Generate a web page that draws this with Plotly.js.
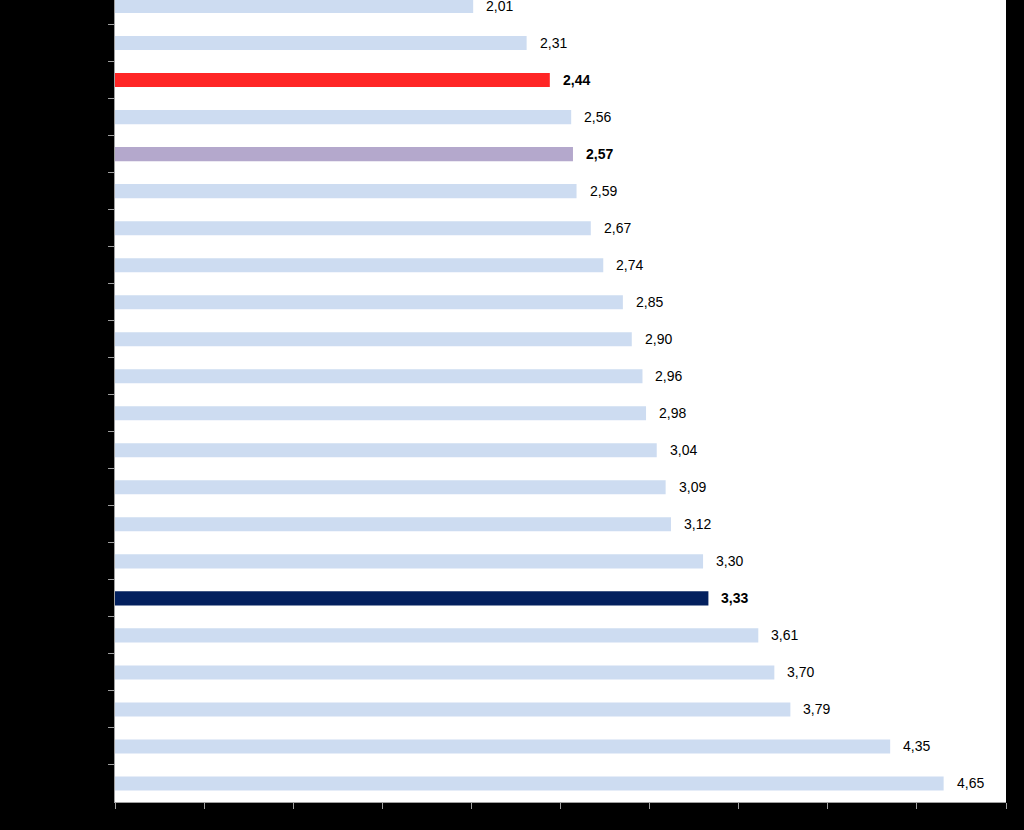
<!DOCTYPE html>
<html>
<head>
<meta charset="utf-8">
<script src="https://cdn.plot.ly/plotly-3.0.1.min.js"></script>
<style>html,body{margin:0;padding:0;background:#000;}#chart{width:1024px;height:830px;}</style>
</head>
<body>
<div id="chart"></div>
<script>
// Categories (labels are not readable in the reference; rank positions used), top to bottom
const categories = ["1","2","3","4","5","6","7","8","9","10","11","12","13","14","15","16","17","18","19","20","21","22"];
const values = [2.01, 2.31, 2.44, 2.56, 2.57, 2.59, 2.67, 2.74, 2.85, 2.90, 2.96, 2.98, 3.04, 3.09, 3.12, 3.30, 3.33, 3.61, 3.70, 3.79, 4.35, 4.65];
// highlight kind per category: "" normal, "red", "purple", "navy"
const highlight = ["", "", "red", "", "purple", "", "", "", "", "", "", "", "", "", "", "", "navy", "", "", "", "", ""];
const xTicks = [0, 0.5, 1, 1.5, 2, 2.5, 3, 3.5, 4, 4.5, 5];

const colorMap = {"": "#CDDCF1", "red": "#FF2626", "purple": "#B4A8CC", "navy": "#03205E"};
const barColors = highlight.map(h => colorMap[h]);

const trace = {
  type: "bar",
  orientation: "h",
  x: values,
  y: categories,
  marker: {color: barColors, line: {width: 0}},
  hoverinfo: "x"
};

// annotation y given as the category's position on the category axis
const annotations = values.map((v, i) => {
  const s = v.toFixed(2).replace(".", ",");
  return {
    x: v, y: categories.indexOf(categories[i]), xref: "x", yref: "y",
    text: highlight[i] ? "<b>" + s + "</b>" : s,
    showarrow: false, xanchor: "left", yanchor: "middle", xshift: 11,
    font: {family: "Liberation Sans Narrow, Arial Narrow, Liberation Sans, sans-serif", size: 14, color: "#000"}
  };
});

const layout = {
  width: 1024, height: 830,
  paper_bgcolor: "#000000",
  plot_bgcolor: "#FFFFFF",
  margin: {l: 115, r: 18, t: 0, b: 28, pad: 0},
  bargap: 0.62,
  showlegend: false,
  xaxis: {
    range: [0, 5],
    tickvals: xTicks,
    showticklabels: false,
    ticks: "outside", ticklen: 6, tickwidth: 1, tickcolor: "#A0A0A0",
    showgrid: false, zeroline: false,
    showline: true, linecolor: "#A0A0A0", linewidth: 1,
    fixedrange: true
  },
  yaxis: {
    type: "category",
    categoryorder: "array", categoryarray: categories,
    range: [21.5, -0.163],
    showticklabels: false,
    ticks: "outside", tickson: "boundaries", ticklen: 6, tickwidth: 1, tickcolor: "#A0A0A0",
    showgrid: false, zeroline: false,
    showline: true, linecolor: "#A0A0A0", linewidth: 1,
    fixedrange: true
  },
  annotations: annotations
};

Plotly.newPlot("chart", [trace], layout, {displayModeBar: false, staticPlot: true});
</script>
</body>
</html>
